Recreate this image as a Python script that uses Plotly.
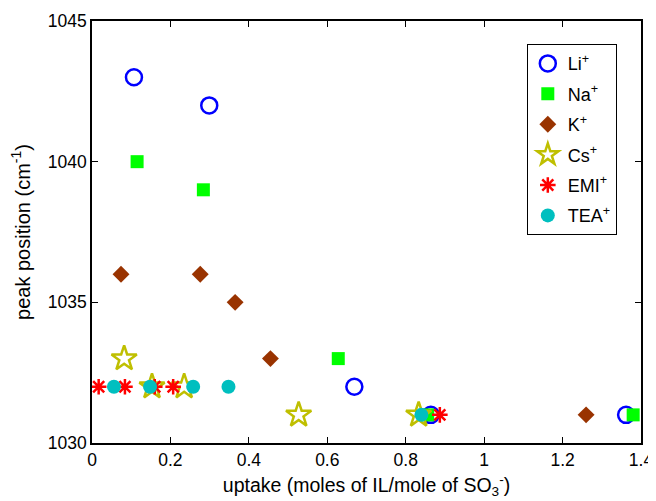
import plotly.graph_objects as go

li_x = [0.107, 0.299, 0.669, 0.864, 1.362]
li_y = [1043, 1042, 1032, 1031, 1031]
na_x = [0.115, 0.284, 0.628, 0.856, 1.38]
na_y = [1040, 1039, 1033, 1031, 1031]
k_x = [0.074, 0.276, 0.365, 0.455, 1.26]
k_y = [1036, 1036, 1035, 1033, 1031]
cs_x = [0.082, 0.153, 0.235, 0.527, 0.833]
cs_y = [1033, 1032, 1032, 1031, 1031]
emi_x = [0.017, 0.084, 0.16, 0.207, 0.887]
emi_y = [1032, 1032, 1032, 1032, 1031]
tea_x = [0.056, 0.148, 0.258, 0.348, 0.84]
tea_y = [1032, 1032, 1032, 1032, 1031]

x_ticks = [0, 0.2, 0.4, 0.6, 0.8, 1, 1.2, 1.4]
x_tick_labels = ["0", "0.2", "0.4", "0.6", "0.8", "1", "1.2", "1.4"]
y_ticks = [1030, 1035, 1040, 1045]

series = [
    ("Li<sup>+</sup>", li_x, li_y, dict(symbol="circle-open", size=16, color="#0000ff", line=dict(width=2.5, color="#0000ff"))),
    ("Na<sup>+</sup>", na_x, na_y, dict(symbol="square", size=13, color="#00ff00", line=dict(width=0))),
    ("K<sup>+</sup>", k_x, k_y, dict(symbol="diamond", size=13, color="#993300", line=dict(width=0))),
    ("Cs<sup>+</sup>", cs_x, cs_y, dict(symbol="star-open", size=19, color="#bfbf00", line=dict(width=2.5, color="#bfbf00"))),
    ("EMI<sup>+</sup>", emi_x, emi_y, dict(symbol="asterisk-open", size=13, color="#ff0000", line=dict(width=2.5, color="#ff0000"))),
    ("TEA<sup>+</sup>", tea_x, tea_y, dict(symbol="circle", size=14, color="#00bfbf", line=dict(width=0))),
]

fig = go.Figure()
for i, (name, xs, ys, mk) in enumerate(series):
    fig.add_trace(go.Scatter(x=xs, y=ys, mode="markers", name=name, marker=mk,
                             legendgroup=str(i)))

axis_common = dict(
    showline=True, linecolor="black", linewidth=1.5, mirror="ticks",
    ticks="inside", ticklen=6, tickcolor="black", tickwidth=1,
    showgrid=False, zeroline=False, automargin=False,
    tickfont=dict(family="Liberation Sans, Arial", size=17.5, color="black"),
)

# page body has an 8px default margin: compensate
fig.update_layout(
    width=648, height=493,
    margin=dict(l=84, r=15, t=13, b=58),
    paper_bgcolor="white", plot_bgcolor="white",
    font=dict(family="Liberation Sans, Arial", color="black"),
    xaxis=dict(range=[0, 1.4], tickvals=x_ticks, ticktext=x_tick_labels,
               title=dict(text="uptake (moles of IL/mole of SO<sub>3</sub><sup>-</sup>)",
                          font=dict(size=19.5), standoff=10),
               **axis_common),
    yaxis=dict(range=[1030, 1045], tickvals=y_ticks,
               title=dict(text="peak position (cm<sup>-1</sup>)", font=dict(size=20), standoff=12),
               **axis_common),
    legend=dict(x=0.792, y=0.945, xanchor="left", yanchor="top",
                bordercolor="black", borderwidth=1, bgcolor="white",
                font=dict(size=18), tracegroupgap=4, itemwidth=30),
    showlegend=True,
)

fig.write_html("out.html")
